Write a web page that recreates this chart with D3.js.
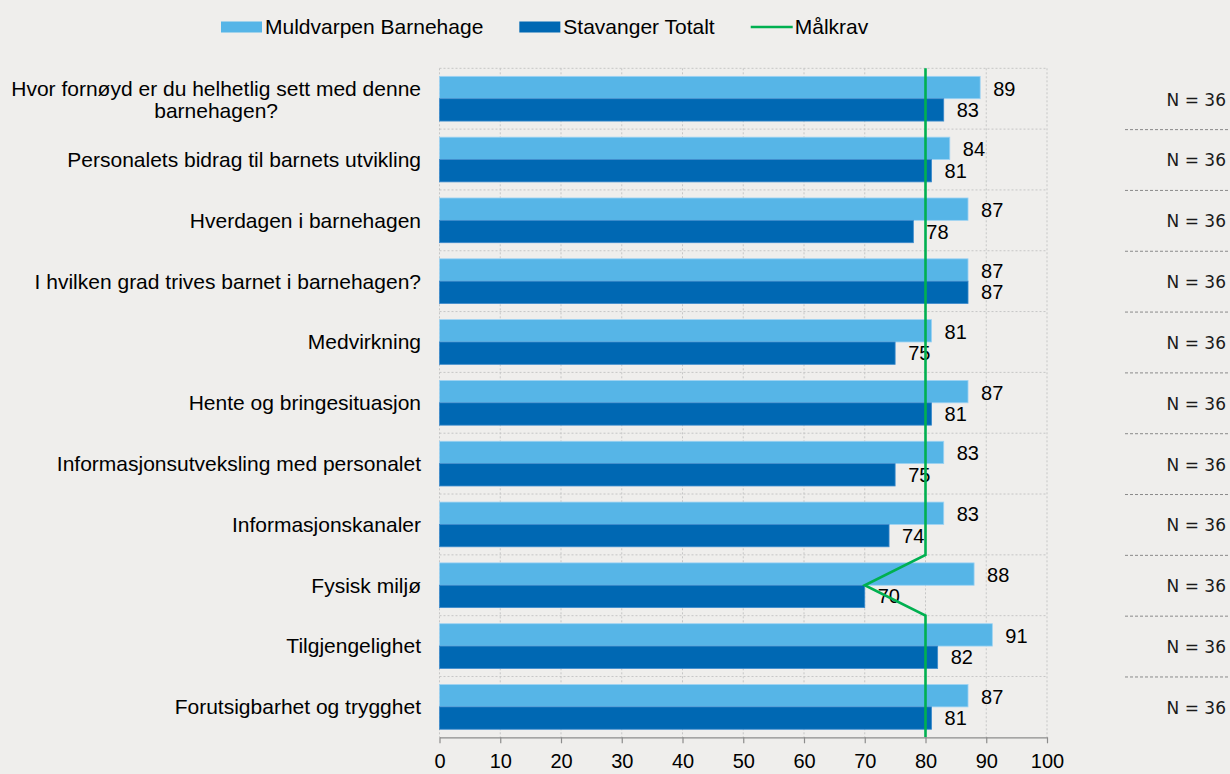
<!DOCTYPE html>
<html lang="no">

<head>
	<meta charset="UTF-8">
	<title>Muldvarpen Barnehage - Stavanger</title>
	<script src="https://d3js.org/d3.v7.min.js"></script>
	<style>
		body {
			margin: 0;
			background: #efeeec;
		}

		svg {
			display: block;
			font-family: "Liberation Sans", Arial, sans-serif;
		}

		.grid line {
			stroke: #c6c6c6;
			stroke-dasharray: 2, 2;
		}

		.axis path,
		.axis line {
			stroke: #8c8c8c;
			stroke-width: 1.2;
		}

		.axis text {
			font-size: 20px;
			fill: #000;
			font-family: "Liberation Sans", Arial, sans-serif;
		}
	</style>
</head>

<body>

	<div id="chart"></div>

	<script>

		var categories = [
			"Hvor fornøyd er du helhetlig sett med denne barnehagen?",
			"Personalets bidrag til barnets utvikling",
			"Hverdagen i barnehagen",
			"I hvilken grad trives barnet i barnehagen?",
			"Medvirkning",
			"Hente og bringesituasjon",
			"Informasjonsutveksling med personalet",
			"Informasjonskanaler",
			"Fysisk miljø",
			"Tilgjengelighet",
			"Forutsigbarhet og trygghet"
		];
		var muldvarpen = [89, 84, 87, 87, 81, 87, 83, 83, 88, 91, 87];
		var stavanger = [83, 81, 78, 87, 75, 81, 75, 74, 70, 82, 81];
		var nLabels = ["N = 36", "N = 36", "N = 36", "N = 36", "N = 36", "N = 36",
			"N = 36", "N = 36", "N = 36", "N = 36", "N = 36"];
		// målkrav-linja: [posisjon i rader fra toppen, verdi]
		var malkrav = [[0, 80], [8, 80], [8.5, 70], [9, 80], [11, 80]];
		var xTicks = [0, 10, 20, 30, 40, 50, 60, 70, 80, 90, 100];
		var seriesNames = ["Muldvarpen Barnehage", "Stavanger Totalt", "Målkrav"];

		var W = 1230;
		var H = 774;
		var colLight = "#56b5e7";
		var colDark = "#0068b3";
		var colGreen = "#00b050";

		var svg = d3.select("#chart").append("svg")
			.attr("width", W)
			.attr("height", H);

		var x = d3.scaleLinear()
			.domain([0, 100])
			.range([439.5, 1047]);

		var y = d3.scaleBand()
			.domain(categories)
			.range([68.3, 737.3])
			.padding(0);

		var ySub = d3.scaleBand()
			.domain(["m", "s"])
			.range([0, y.bandwidth()])
			.paddingInner(0)
			.paddingOuter(0.36);

		var yPos = d3.scaleLinear()
			.domain([0, categories.length])
			.range(y.range());

		// grid
		var grid = svg.append("g").attr("class", "grid");
		grid.selectAll("line.v")
			.data(xTicks)
			.enter().append("line")
			.attr("class", "v")
			.attr("x1", function (d) { return x(d); })
			.attr("x2", function (d) { return x(d); })
			.attr("y1", y.range()[0])
			.attr("y2", y.range()[1]);
		grid.selectAll("line.h")
			.data(categories)
			.enter().append("line")
			.attr("class", "h")
			.attr("x1", x(0))
			.attr("x2", x(100))
			.attr("y1", function (d) { return y(d); })
			.attr("y2", function (d) { return y(d); });

		// bars
		var rows = svg.append("g").selectAll("g")
			.data(categories)
			.enter().append("g")
			.attr("transform", function (d) { return "translate(0," + y(d) + ")"; });

		rows.append("rect")
			.attr("x", x(0))
			.attr("y", ySub("m"))
			.attr("width", function (d, i) { return x(muldvarpen[i]) - x(0); })
			.attr("height", ySub.bandwidth())
			.attr("fill", colLight)
			.attr("stroke", "#9ed3f3")
			.attr("stroke-width", 0.8);

		rows.append("rect")
			.attr("x", x(0))
			.attr("y", ySub("s"))
			.attr("width", function (d, i) { return x(stavanger[i]) - x(0); })
			.attr("height", ySub.bandwidth())
			.attr("fill", colDark)
			.attr("stroke", "#3d8bcc")
			.attr("stroke-width", 0.8);

		// value labels
		rows.append("text")
			.attr("x", function (d, i) { return x(muldvarpen[i]) + 13; })
			.attr("y", ySub("m") + ySub.bandwidth() / 2 + 1)
			.attr("dy", "0.35em")
			.style("font-size", "20px")
			.text(function (d, i) { return muldvarpen[i]; });

		rows.append("text")
			.attr("x", function (d, i) { return x(stavanger[i]) + 13; })
			.attr("y", ySub("s") + ySub.bandwidth() / 2)
			.attr("dy", "0.35em")
			.style("font-size", "20px")
			.text(function (d, i) { return stavanger[i]; });

		// category labels (wrapped, centred block, right aligned)
		rows.each(function (d) {
			var g = d3.select(this);
			var t = g.append("text")
				.style("font-size", "21px")
				.attr("text-anchor", "end")
				.attr("x", 421)
				.attr("y", y.bandwidth() / 2)
				.attr("dy", "0.35em")
				.text(d);
			if (t.node().getComputedTextLength() > 412) {
				var words = d.split(" ");
				var lines = [];
				var line = [];
				t.remove();
				var probe = g.append("text").style("font-size", "21px");
				words.forEach(function (w) {
					line.push(w);
					probe.text(line.join(" "));
					if (probe.node().getComputedTextLength() > 412 && line.length > 1) {
						line.pop();
						lines.push(line.join(" "));
						line = [w];
					}
				});
				lines.push(line.join(" "));
				var maxW = 0;
				lines.forEach(function (l) {
					probe.text(l);
					maxW = Math.max(maxW, probe.node().getComputedTextLength());
				});
				probe.remove();
				var lh = 22;
				lines.forEach(function (l, k) {
					g.append("text")
						.style("font-size", "21px")
						.attr("text-anchor", "middle")
						.attr("x", 421 - maxW / 2)
						.attr("y", y.bandwidth() / 2 + 1 + (k - (lines.length - 1) / 2) * lh)
						.attr("dy", "0.35em")
						.text(l);
				});
			}
		});

		// Målkrav line
		var line = d3.line()
			.x(function (d) { return x(d[1]); })
			.y(function (d) { return yPos(d[0]); });

		svg.append("path")
			.datum(malkrav)
			.attr("d", line)
			.attr("fill", "none")
			.attr("stroke", colGreen)
			.attr("stroke-width", 2.6);

		// x axis
		svg.append("g")
			.attr("class", "axis")
			.attr("transform", "translate(0," + y.range()[1] + ")")
			.call(d3.axisBottom(x).tickValues(xTicks).tickSize(6).tickSizeOuter(0).tickPadding(11));

		// N labels and separators
		var side = svg.append("g");
		side.selectAll("text")
			.data(nLabels)
			.enter().append("text")
			.attr("x", 1226)
			.attr("y", function (d, i) { return y(categories[i]) + y.bandwidth() / 2 + 1; })
			.attr("dy", "0.35em")
			.attr("text-anchor", "end")
			.style("font-family", "'DejaVu Sans', sans-serif")
			.style("font-size", "17px")
			.attr("fill", "#1a1a1a")
			.text(function (d) { return d; });

		side.selectAll("line")
			.data(categories.slice(1))
			.enter().append("line")
			.attr("x1", 1125)
			.attr("x2", W)
			.attr("y1", function (d) { return y(d) + 0.5; })
			.attr("y2", function (d) { return y(d) + 0.5; })
			.attr("stroke", "#8a8a8a")
			.attr("stroke-dasharray", "3,2");

		// legend
		var legend = svg.append("g");
		var lx = 221;
		seriesNames.forEach(function (name, i) {
			var item = legend.append("g").attr("transform", "translate(" + lx + ",0)");
			if (i < 2) {
				item.append("rect")
					.attr("x", 0)
					.attr("y", 21.5)
					.attr("width", 41)
					.attr("height", 11)
					.attr("fill", i === 0 ? colLight : colDark);
			} else {
				item.append("line")
					.attr("x1", 0)
					.attr("x2", 42)
					.attr("y1", 27)
					.attr("y2", 27)
					.attr("stroke", colGreen)
					.attr("stroke-width", 2.6);
			}
			var t = item.append("text")
				.attr("x", 44)
				.attr("y", 27)
				.attr("dy", "0.35em")
				.style("font-size", "21px")
				.text(name);
			lx += 44 + t.node().getComputedTextLength() + 36;
		});

	</script>

</body>

</html>
